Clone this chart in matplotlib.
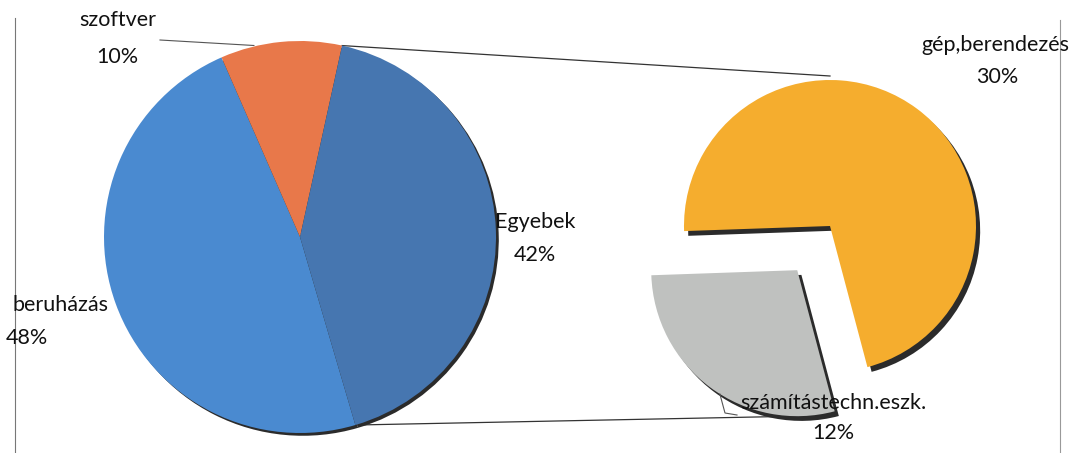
import numpy as np
import matplotlib
matplotlib.use("Agg")
import matplotlib.pyplot as plt

# ---- data ----
main_labels = ["beruházás", "szoftver", "Egyebek"]
main_values = [48, 10, 42]
sub_labels = ["gép,berendezés", "számítástechn.eszk."]
sub_values = [30, 12]

main_colors = ["#4a8ad0", "#e8784a", "#4676b0"]
sub_colors = ["#f5ad2e", "#bfc1bf"]

W, H = 1072, 453
fig = plt.figure(figsize=(W / 100, H / 100), dpi=100)
ax = fig.add_axes([0, 0, 1, 1])

FONT = "Lato"
FS = 15.5
SHADOW = "#2b2b2b"

# ---- main pie ----
main_center = (300, H - 237)
main_r = 196
w_main, _ = ax.pie(main_values, colors=main_colors, center=main_center,
                   radius=main_r, startangle=-73.6, counterclock=False,
                   shadow={"ox": 2.0, "oy": -2.0, "alpha": 1.0,
                           "facecolor": SHADOW, "edgecolor": SHADOW},
                   wedgeprops={"linewidth": 0})

# ---- sub pie (pie of pie) ----
sub_center = (830, H - 226)
sub_r = 146
w_sub, _ = ax.pie(sub_values, colors=sub_colors, center=sub_center,
                  radius=sub_r, startangle=182, counterclock=False,
                  explode=[0, 55],
                  shadow={"ox": 3.0, "oy": -3.4, "alpha": 1.0,
                          "facecolor": SHADOW, "edgecolor": SHADOW},
                  wedgeprops={"linewidth": 0})


def pt(center, r, ang):
    a = np.deg2rad(ang)
    return center[0] + r * np.cos(a), center[1] + r * np.sin(a)


# connector lines between the "Egyebek" slice and the sub pie
eg = w_main[2]
p_top = pt(eg.center, eg.r, eg.theta2)
p_bot = pt(eg.center, eg.r, eg.theta1)
top_sub = pt(w_sub[0].center, w_sub[0].r + 4, 90)
bot_sub = pt(w_sub[1].center, w_sub[1].r, -90)
ax.plot([p_top[0], top_sub[0]], [p_top[1], top_sub[1]], color="#333333", lw=0.9, zorder=0.5)
ax.plot([p_bot[0], bot_sub[0]], [p_bot[1], bot_sub[1]], color="#333333", lw=0.9, zorder=0.5)

# leader line for szoftver label
sz = w_main[1]
sz_pt = pt(sz.center, sz.r, (sz.theta1 + sz.theta2) / 2 + 8)
ax.plot([160, sz_pt[0]], [H - 40, sz_pt[1] + 1], color="#555555", lw=0.8, zorder=0.5)

# leader line for számítástechn label
gr = w_sub[1]
g_pt = pt(gr.center, gr.r, 238)
ax.plot([g_pt[0], 725, 737], [g_pt[1], H - 413, H - 415], color="#555555", lw=0.8, zorder=3)

# ---- labels ----
def lab(x, y, txt, ha="center"):
    ax.text(x, H - y, txt, ha=ha, va="center", fontsize=FS, family=FONT,
            color="#111111", zorder=5)

lab(118, 20, main_labels[1])
lab(117, 57, f"{main_values[1]}%")
lab(535, 222, main_labels[2])
lab(535, 255, f"{main_values[2]}%")
lab(61, 305, main_labels[0])
lab(27, 338, f"{main_values[0]}%")
lab(995, 45, sub_labels[0])
lab(997, 77, f"{sub_values[0]}%")
lab(833, 403, sub_labels[1])
lab(833, 433, f"{sub_values[1]}%")

# scanned frame lines
ax.plot([15, 15], [0, H - 18], color="#777777", lw=0.8, zorder=0.4)
ax.plot([1060, 1060], [0, H - 20], color="#999999", lw=0.8, zorder=0.4)

ax.set_aspect("auto")
ax.set_xlim(0, W)
ax.set_ylim(0, H)
ax.axis("off")
fig.savefig("out.png", dpi=100, facecolor="white")
